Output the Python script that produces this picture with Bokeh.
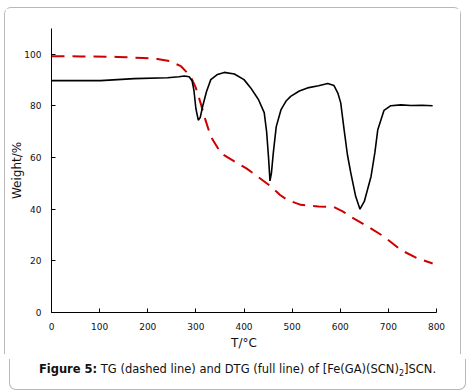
from bokeh.plotting import figure
from bokeh.models import Range1d, FixedTicker, Div
from bokeh.layouts import column
from bokeh.embed import file_html
from bokeh.resources import INLINE

# TG (dashed) curve
tg_t = [0, 60, 137, 190, 220, 245, 269, 289, 300, 310, 320, 331, 352, 380, 405, 428, 456, 475, 490, 518, 555, 587, 605, 622, 657, 691, 726, 760, 792]
tg_w = [99.3, 99.2, 99.0, 98.6, 98.2, 97.4, 95.4, 91.5, 87.0, 81.0, 74.5, 68.2, 61.7, 58.5, 55.8, 52.7, 48.8, 45.5, 43.6, 41.7, 41.1, 40.8, 39.2, 37.1, 33.3, 29.4, 24.2, 21.0, 19.0]

# DTG (full) curve
dtg_t = [0, 102, 172, 241, 265, 276, 286, 292, 296, 300, 305, 309, 314, 322, 331, 345, 359, 380, 400, 414, 430, 442, 447, 451, 454, 457, 461, 467, 477, 487, 497, 515, 532, 555, 574, 587, 595, 601, 608, 615, 622, 632, 641, 650, 664, 672, 678, 691, 705, 726, 747, 770, 792]
dtg_w = [89.8, 89.8, 90.6, 90.9, 91.3, 91.6, 91.3, 89.8, 86.0, 79.0, 74.5, 75.5, 79.8, 85.5, 90.2, 92.2, 93.0, 92.4, 90.2, 87.0, 82.5, 77.4, 70.0, 60.0, 51.0, 54.0, 62.0, 72.0, 78.6, 81.8, 83.7, 85.8, 87.0, 87.8, 88.7, 87.9, 85.0, 81.2, 70.8, 61.0, 54.0, 45.0, 40.0, 43.0, 52.7, 62.0, 70.8, 78.3, 80.1, 80.4, 80.2, 80.3, 80.1]

x_ticks = [0, 100, 200, 300, 400, 500, 600, 700, 800]
y_ticks = [0, 20, 40, 60, 80, 100]

p = figure(width=457, height=347, output_backend="svg", toolbar_location=None,
           x_range=Range1d(0, 800), y_range=Range1d(0, 110),
           min_border_left=46, min_border_right=26, min_border_top=20, min_border_bottom=43)
p.styles = {"border": "1px solid #b8b8b8", "border-bottom": "none",
            "border-radius": "7px 7px 0 0"}
p.outline_line_color = None
p.xgrid.visible = False
p.ygrid.visible = False

p.line(tg_t, tg_w, line_color="#cc0000", line_width=2, line_dash="13 8")
p.line(dtg_t, dtg_w, line_color="black", line_width=1.6)

for ax, ticks in ((p.xaxis, x_ticks), (p.yaxis, y_ticks)):
    ax.ticker = FixedTicker(ticks=ticks)
    ax.axis_line_color = "black"
    ax.major_tick_line_color = "black"
    ax.major_tick_in = 4
    ax.major_tick_out = 0
    ax.minor_tick_line_color = None
    ax.major_label_text_font = "DejaVu Sans"
    ax.major_label_text_font_size = "9px"
    ax.major_label_text_color = "#111111"
    ax.axis_label_text_font = "DejaVu Sans"
    ax.axis_label_text_font_size = "12px"
    ax.axis_label_text_font_style = "normal"
    ax.axis_label_text_color = "#111111"

p.xaxis.major_label_standoff = 10
p.yaxis.major_label_standoff = 10
p.xaxis.axis_label = "T/°C"
p.xaxis.axis_label_standoff = 3
p.yaxis.axis_label = "Weight/%"
p.yaxis.axis_label_standoff = -3

caption = Div(
    text="<b>Figure 5:</b> TG (dashed line) and DTG (full line) of [Fe(GA)(SCN)<sub style='font-size:8px'>2</sub>]SCN.",
    width=457, height=31,
    styles={"font-family": "DejaVu Sans", "font-size": "11.5px", "color": "#111111",
            "text-align": "center", "line-height": "20px", "white-space": "nowrap",
            "border": "1px solid #b8b8b8", "border-top": "none",
            "border-radius": "0 0 7px 7px"},
)

layout = column(p, caption, spacing=0,
                styles={"margin-left": "4px", "margin-top": "7px"})

open("out.html", "w").write(file_html(layout, INLINE))
